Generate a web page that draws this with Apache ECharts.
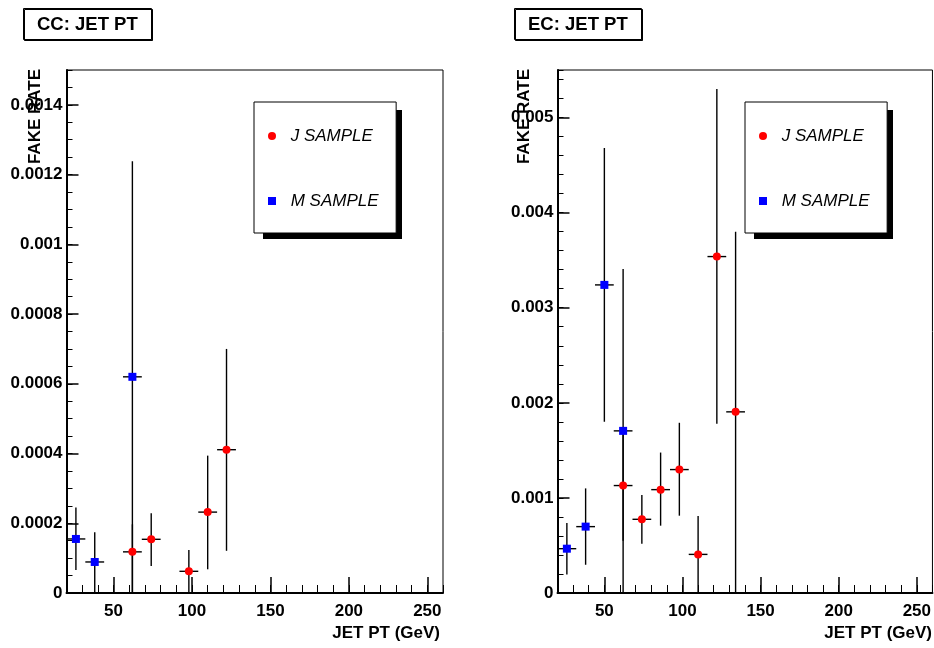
<!DOCTYPE html>
<html>
<head>
<meta charset="utf-8">
<script src="https://cdn.jsdelivr.net/npm/echarts@6/dist/echarts.min.js"></script>
<style>html,body{margin:0;padding:0;background:#fff}#c{width:934px;height:648px}</style>
</head>
<body>
<div id="c"></div>
<script>
// ---- data ----
const panelTitles = ['CC: JET PT', 'EC: JET PT'];
const sampleNames = ['J SAMPLE', 'M SAMPLE'];
const binHalfWidth = 6;

const ccJx  = [62, 74, 98, 110, 122];
const ccJy  = [0.000118, 0.000154, 0.0000622, 0.000232, 0.000411];
const ccJlo = [0, 0.0000775, 0, 0.000068, 0.000121];
const ccJhi = [0.000197, 0.000229, 0.000123, 0.000394, 0.0007];

const ccMx  = [26, 38, 62];
const ccMy  = [0.000155, 0.000089, 0.00062];
const ccMlo = [0.000066, 0, 0];
const ccMhi = [0.000245, 0.000174, 0.001238];

const ecJx  = [62, 74, 86, 98, 110, 122, 134];
const ecJy  = [0.00113, 0.000775, 0.001087, 0.001298, 0.000406, 0.003538, 0.001905];
const ecJlo = [0.00055, 0.000518, 0.000708, 0.000813, 0, 0.00178, 0];
const ecJhi = [0.0017, 0.00103, 0.001477, 0.00179, 0.00081, 0.0053, 0.0038];

const ecMx  = [26, 38, 50, 62];
const ecMy  = [0.000466, 0.000698, 0.00324, 0.001705];
const ecMlo = [0.000195, 0.000297, 0.0018, 0];
const ecMhi = [0.000736, 0.0011, 0.00468, 0.003406];

const xMajorTicks = [50, 100, 150, 200, 250];
const ccYTicks = [0, 0.0002, 0.0004, 0.0006, 0.0008, 0.001, 0.0012, 0.0014];
const ecYTicks = [0, 0.001, 0.002, 0.003, 0.004, 0.005];

// ---- chart ----
const FONT = '"Liberation Sans", Arial, Helvetica, sans-serif';
const zip = (xs, ys, lo, hi) => xs.map((x, i) => [x, ys[i], lo[i], hi[i]]);

const grids = [
  { left: 66.5, top: 70, width: 376.5, height: 523 },
  { left: 557.5, top: 70, width: 376, height: 523 }
];

function xAxes(g) {
  return [
    { type: 'value', gridIndex: g, position: 'bottom', min: 20, max: 260,
      axisLine: { show: true, onZero: false, lineStyle: { color: '#000', width: 2 } },
      axisTick: { show: true, inside: true, length: 16, customValues: xMajorTicks, lineStyle: { color: '#000', width: 1.5 } },
      axisLabel: { customValues: xMajorTicks, margin: 10, fontSize: 17, fontWeight: 'bold', color: '#000', fontFamily: FONT },
      splitLine: { show: false } },
    { type: 'value', gridIndex: g, position: 'bottom', min: 20, max: 260, interval: 10,
      axisLine: { show: false },
      axisTick: { show: true, inside: true, length: 8, lineStyle: { color: '#000', width: 1 } },
      axisLabel: { show: false }, splitLine: { show: false } }
  ];
}
function yAxes(g, max, ticks, minorStep, digits) {
  return [
    { type: 'value', gridIndex: g, position: 'left', min: 0, max: max,
      axisLine: { show: true, onZero: false, lineStyle: { color: '#000', width: 2 } },
      axisTick: { show: true, inside: true, length: 12, customValues: ticks, lineStyle: { color: '#000', width: 1.5 } },
      axisLabel: { customValues: ticks, margin: 4, fontSize: 17, fontWeight: 'bold', color: '#000', fontFamily: FONT,
        formatter: v => v === 0 ? '0' : v.toFixed(digits).replace(/0+$/, '') },
      splitLine: { show: false } },
    { type: 'value', gridIndex: g, position: 'left', min: 0, max: max, interval: minorStep,
      axisLine: { show: false },
      axisTick: { show: true, inside: true, length: 6, lineStyle: { color: '#000', width: 1 } },
      axisLabel: { show: false }, splitLine: { show: false } }
  ];
}

function errSeries(name, data, xi, yi) {
  return {
    type: 'custom', name: name, xAxisIndex: xi, yAxisIndex: yi, z: 2,
    data: data, encode: { x: 0, y: 1 }, silent: true,
    renderItem: function (params, api) {
      const x = api.value(0), y = api.value(1), lo = api.value(2), hi = api.value(3);
      const p = api.coord([x, y]);
      const t = api.coord([x, hi]);
      const b = api.coord([x, lo]);
      const l = api.coord([x - binHalfWidth, y]);
      const r = api.coord([x + binHalfWidth, y]);
      const st = { stroke: '#000', lineWidth: 1.4 };
      return { type: 'group', children: [
        { type: 'line', shape: { x1: p[0], y1: t[1], x2: p[0], y2: b[1] }, style: st },
        { type: 'line', shape: { x1: l[0], y1: p[1], x2: r[0], y2: p[1] }, style: st }
      ]};
    }
  };
}
function ptSeries(name, data, xi, yi, symbol, color) {
  return { type: 'scatter', name: name, xAxisIndex: xi, yAxisIndex: yi, z: 5,
    symbol: symbol, symbolSize: 8, itemStyle: { color: color, opacity: 1 },
    data: data.map(d => [d[0], d[1]]) };
}

const ccJ = zip(ccJx, ccJy, ccJlo, ccJhi);
const ccM = zip(ccMx, ccMy, ccMlo, ccMhi);
const ecJ = zip(ecJx, ecJy, ecJlo, ecJhi);
const ecM = zip(ecMx, ecMy, ecMlo, ecMhi);

function legendAt(left) {
  return { orient: 'vertical', left: left, top: 102, z: 6,
    data: [{ name: sampleNames[0], icon: 'circle' }, { name: sampleNames[1], icon: 'rect' }],
    itemWidth: 8, itemHeight: 8, itemGap: 45,
    padding: [24, 17.6, 22, 14],
    backgroundColor: '#fff', borderColor: '#000', borderWidth: 1,
    itemStyle: { opacity: 1 },
    textStyle: { fontSize: 17, fontStyle: 'italic', color: '#000', fontFamily: FONT, lineHeight: 20, padding: [0, 0, 0, 9.7] },
    selectedMode: false };
}
function titleAt(text, left) {
  return { text: text, left: left, top: 8, padding: [7, 14, 6, 14],
    borderColor: '#000', borderWidth: 1,
    shadowColor: '#000', shadowBlur: 0, shadowOffsetX: 1, shadowOffsetY: 1, backgroundColor: '#fff',
    textStyle: { fontSize: 18.5, fontWeight: 'bold', color: '#000', fontFamily: FONT } };
}
function txt(text, x, y, rot, align) {
  return { type: 'text', x: x, y: y, rotation: rot, z: 10,
    style: { text: text, font: 'bold 17px ' + FONT, fill: '#000', align: align, verticalAlign: 'middle' } };
}
function shadowRect(x) {
  return { type: 'rect', z: 1, shape: { x: x, y: 110, width: 139, height: 129 }, style: { fill: '#000' } };
}

const option = {
  animation: false,
  backgroundColor: '#fff',
  title: [titleAt(panelTitles[0], 23), titleAt(panelTitles[1], 514)],
  legend: [legendAt(254), legendAt(745)],
  grid: grids.map(g => Object.assign({ show: true, borderColor: '#000', borderWidth: 1, backgroundColor: 'transparent' }, g)),
  xAxis: [...xAxes(0), ...xAxes(1)],
  yAxis: [...yAxes(0, 0.0015, ccYTicks, 0.00005, 4), ...yAxes(1, 0.0055, ecYTicks, 0.0002, 3)],
  graphic: [
    shadowRect(263),
    shadowRect(754),
    txt('FAKE RATE', 35, 69, Math.PI / 2, 'right'),
    txt('FAKE RATE', 524, 69, Math.PI / 2, 'right'),
    txt('JET PT (GeV)', 440, 633, 0, 'right'),
    txt('JET PT (GeV)', 932, 633, 0, 'right')
  ],
  series: [
    errSeries('cc J err', ccJ, 0, 0),
    errSeries('cc M err', ccM, 0, 0),
    ptSeries(sampleNames[0], ccJ, 0, 0, 'circle', '#ff0000'),
    ptSeries(sampleNames[1], ccM, 0, 0, 'rect', '#0000ff'),
    errSeries('ec J err', ecJ, 2, 2),
    errSeries('ec M err', ecM, 2, 2),
    ptSeries(sampleNames[0], ecJ, 2, 2, 'circle', '#ff0000'),
    ptSeries(sampleNames[1], ecM, 2, 2, 'rect', '#0000ff')
  ]
};

const chart = echarts.init(document.getElementById('c'), null, { renderer: 'canvas' });
chart.setOption(option);
</script>
</body>
</html>
